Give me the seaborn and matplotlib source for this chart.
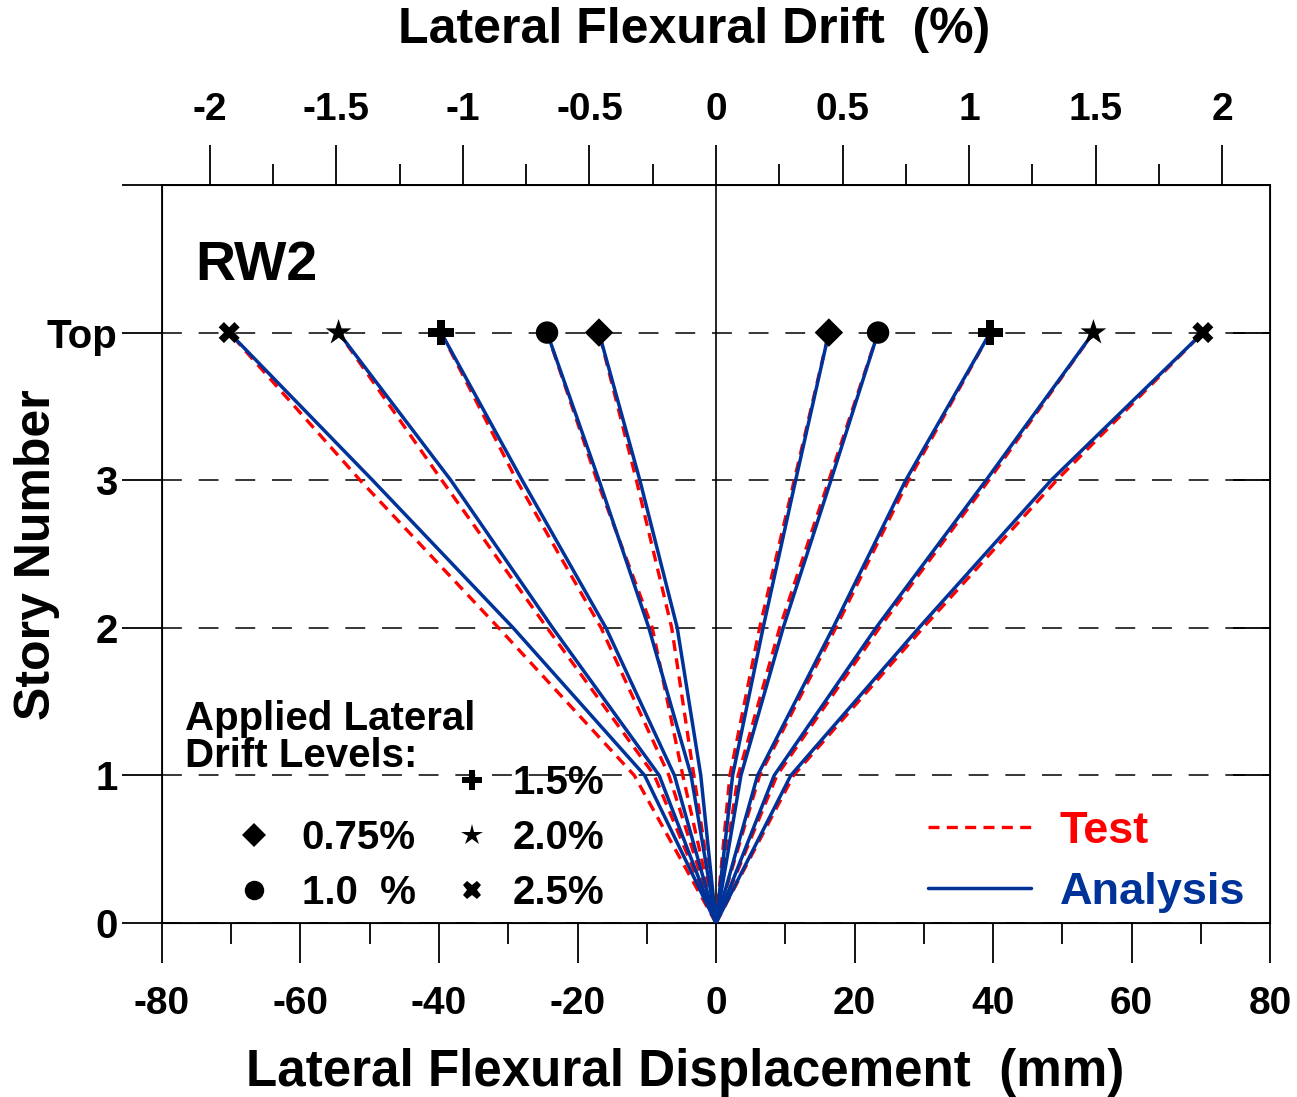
import numpy as np
import pandas as pd
import seaborn as sns
import matplotlib.pyplot as plt
from matplotlib.lines import Line2D
from matplotlib.ticker import MultipleLocator, FuncFormatter

# story levels (0 = base, 4 = Top)
stories = [0, 1, 2, 3, 4]
levels = ['0.75%', '1.0  %', '1.5%', '2.0%', '2.5%']
level_markers = ['D', 'o', 'P', '*', 'X']

# lateral flexural displacement (mm), one row per drift level, base -> Top
ana_neg = [[0, -2.2, -5.6, -11.0, -16.9],
           [0, -3.6, -9.7, -16.9, -24.4],
           [0, -6.0, -15.9, -28.0, -39.7],
           [0, -8.2, -23.6, -38.3, -54.5],
           [0, -10.3, -29.3, -49.6, -70.3]]
test_neg = [[0, -3.2, -6.4, -11.5, -16.9],
            [0, -4.8, -9.2, -17.2, -24.4],
            [0, -6.8, -16.6, -28.8, -39.7],
            [0, -8.9, -24.4, -39.6, -54.5],
            [0, -11.8, -31.4, -51.4, -70.3]]
ana_pos = [[0, 2.4, 6.8, 11.5, 16.3],
           [0, 3.6, 9.7, 16.6, 23.4],
           [0, 6.0, 16.9, 27.4, 39.6],
           [0, 8.4, 23.1, 39.0, 54.5],
           [0, 10.8, 29.3, 48.4, 70.3]]
test_pos = [[0, 2.0, 6.3, 11.3, 16.3],
            [0, 3.2, 9.2, 16.3, 23.4],
            [0, 6.3, 17.3, 27.8, 39.6],
            [0, 8.8, 23.6, 39.4, 54.5],
            [0, 11.2, 29.9, 49.2, 70.3]]

drift_ticks = [-2, -1.5, -1, -0.5, 0, 0.5, 1, 1.5, 2]
mm_per_pct = 36.54  # 1 % drift -> mm

RED = '#FF0000'
BLUE = '#003399'

rows = []
for source, groups in [('Test', [test_neg, test_pos]), ('Analysis', [ana_neg, ana_pos])]:
    for side, group in enumerate(groups):
        for lev, vals in zip(levels, group):
            for s, d in zip(stories, vals):
                rows.append(dict(source=source, level=lev, curve=f'{source}{side}{lev}', story=s, disp=d))
df = pd.DataFrame(rows)
top = df[(df.source == 'Analysis') & (df.story == 4)]

sns.set_style('white')
plt.rcParams['font.family'] = ['Liberation Sans', 'DejaVu Sans']
plt.rcParams['font.weight'] = 'bold'
plt.rcParams['axes.unicode_minus'] = False
for k in ['text.color', 'axes.labelcolor', 'xtick.color', 'ytick.color', 'axes.edgecolor']:
    plt.rcParams[k] = 'black'

fig, ax = plt.subplots(figsize=(12.97, 10.97), dpi=100)
fig.subplots_adjust(left=0.1249, right=0.9792, top=0.8314, bottom=0.1586)

ax.axvline(0, color='black', lw=1.2, zorder=1)

sns.lineplot(data=df[df.source == 'Test'], x='disp', y='story', units='curve',
             estimator=None, sort=False, color=RED, lw=2.4, ls=(0, (3.3, 2.2)), ax=ax, zorder=2)
sns.lineplot(data=df[df.source == 'Analysis'], x='disp', y='story', units='curve',
             estimator=None, sort=False, color=BLUE, lw=2.5, ax=ax, zorder=3)
sns.scatterplot(data=top, x='disp', y='story', style='level', markers=dict(zip(levels, level_markers)),
                size='level', sizes=dict(zip(levels, [210, 260, 330, 380, 230])),
                color='black', linewidth=0, legend=False, ax=ax, zorder=4)

ax.set_xlim(-80, 80)
ax.set_ylim(0, 5)
ax.set_yticks([0, 1, 2, 3, 4, 5])
ax.set_yticklabels(['0', '1', '2', '3', 'Top', ''])
ax.xaxis.set_major_locator(MultipleLocator(20))
ax.xaxis.set_minor_locator(MultipleLocator(10))
ax.xaxis.set_major_formatter(FuncFormatter(lambda v, p: f'{v:g}'))
ax.tick_params(axis='x', which='major', direction='out', length=29, width=1.3, labelsize=28, pad=16, bottom=True)
ax.tick_params(axis='x', which='minor', direction='out', length=15, width=1.3, bottom=True)
ax.tick_params(axis='y', which='major', direction='out', length=29, width=1.3, labelsize=29, pad=3, left=True)
ax.yaxis.grid(True, color='black', lw=1.1, ls=(0, (13, 11)))
ax.xaxis.grid(False)
for sp in ax.spines.values():
    sp.set_color('black')
    sp.set_linewidth(1.3)

# right side inward ticks
ax_r = ax.twinx()
ax_r.set_ylim(0, 5)
ax_r.set_yticks([1, 2, 3, 4])
ax_r.tick_params(axis='y', direction='in', length=27, width=1.3, labelright=False, right=True)
ax_r.grid(False)

# drift axis on top
secax = ax.secondary_xaxis('top', functions=(lambda x: x / mm_per_pct, lambda x: x * mm_per_pct))
secax.set_xticks(drift_ticks)
secax.set_xticks(np.arange(-2, 2.01, 0.25), minor=True)
secax.set_xticklabels([f'{v:g}' for v in drift_ticks])
secax.tick_params(axis='x', which='major', direction='out', length=29, width=1.3, labelsize=28, pad=12)
secax.tick_params(axis='x', which='minor', direction='out', length=15, width=1.3)
secax.spines['top'].set_linewidth(1.3)

ax.set_xlabel('Lateral Flexural Displacement  (mm)', fontsize=36.8, fontweight='bold')
ax.xaxis.set_label_coords(0.472, -0.169)
ax.set_ylabel('Story Number', fontsize=36, fontweight='bold')
ax.yaxis.set_label_coords(-0.092, 0.499)
fig.text(0.535, 0.9727, 'Lateral Flexural Drift  (%)', fontsize=36, fontweight='bold', ha='center', va='center')

ax.text(0.03, 0.871, 'RW2', transform=ax.transAxes, fontsize=40, fontweight='bold', va='baseline')
ax.text(0.021, 0.302, 'Applied Lateral\nDrift Levels:', transform=ax.transAxes, fontsize=29,
        fontweight='bold', va='top', linespacing=0.95)

def mk(m, ms):
    return Line2D([], [], ls='none', marker=m, color='black', markersize=ms, markeredgewidth=0)

leg1 = ax.legend([mk('D', 12), mk('o', 14)], [levels[0], levels[1]], loc='lower left',
                 bbox_to_anchor=(0.065, 0.015), frameon=False, fontsize=29, handlelength=1.0,
                 handletextpad=0.68, labelspacing=0.425, borderpad=0, borderaxespad=0)
ax.add_artist(leg1)
leg2 = ax.legend([mk('P', 14), mk('*', 16), mk('X', 13)], levels[2:], loc='lower left',
                 bbox_to_anchor=(0.262, 0.015), frameon=False, fontsize=29, handlelength=1.0,
                 handletextpad=0.5, labelspacing=0.425, borderpad=0, borderaxespad=0)
ax.add_artist(leg2)
leg3 = ax.legend([Line2D([], [], color=RED, lw=2.4, ls=(0, (3.3, 2.2))), Line2D([], [], color=BLUE, lw=2.5)],
                 ['Test', 'Analysis'], loc='lower left', bbox_to_anchor=(0.691, 0.0135), frameon=False,
                 fontsize=32.5, handlelength=2.3, handletextpad=0.62, labelspacing=0.44,
                 borderpad=0, borderaxespad=0, labelcolor='linecolor')

fig.savefig('out.png', dpi=100)
